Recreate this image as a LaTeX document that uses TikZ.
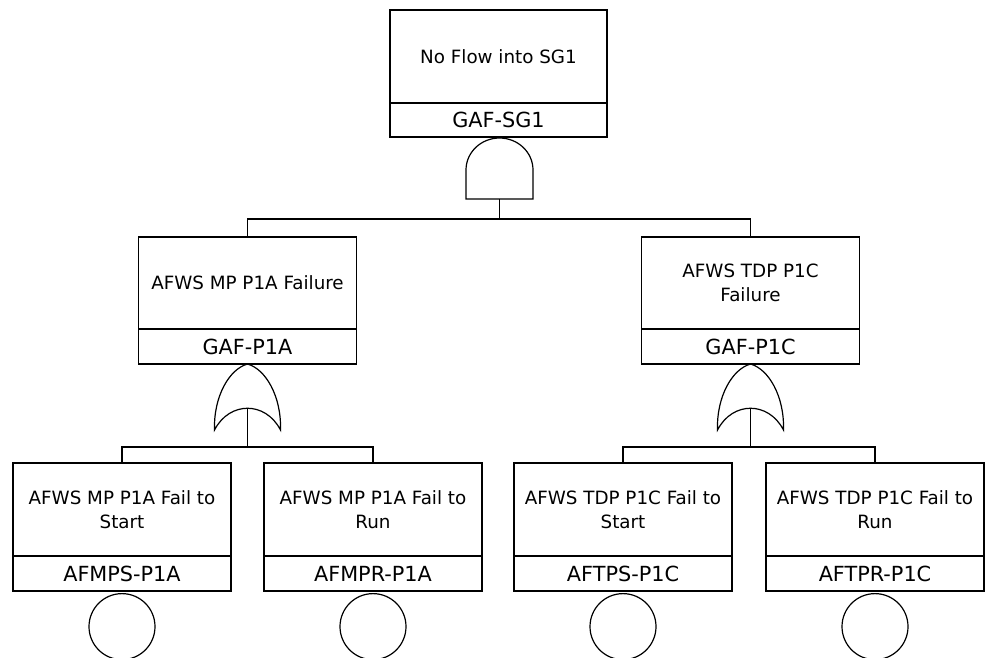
\documentclass[tikz,border=0pt]{standalone}
\usepackage{fontspec}
\setmainfont{DejaVu Sans}
\begin{document}
\begin{tikzpicture}[x=1pt,y=-1pt,line width=1.2pt,
  desc/.style={draw,minimum width=218pt,minimum height=93pt,inner sep=0pt,outer sep=0pt,align=center,font=\fontsize{18.3}{23.5}\selectfont},
  ident/.style={draw,minimum width=218pt,minimum height=35pt,inner sep=0pt,outer sep=0pt,font=\fontsize{20.8}{24}\selectfont},
  basic/.style={draw,circle,minimum size=66pt,inner sep=0pt},
  orgate/.pic={\draw (-33,66) .. controls (-34,32) and (-18,5) .. (0,0) .. controls (18,5) and (34,32) .. (33,66) .. controls (18,37) and (-18,37) .. cycle;}]
\useasboundingbox (0,0) rectangle (988,657);
% top event
\node[desc,minimum width=217pt] (top) at (498.5,56.5) {No Flow into SG1};
\node[ident,minimum width=217pt,minimum height=34pt,anchor=north] (topid) at (top.south) {GAF-SG1};
% AND gate
\draw (466,199) -- (466,170) arc[start angle=180,end angle=0,x radius=33.5pt,y radius=32pt] -- (533,199) -- cycle;
\coordinate (andout) at (499.5,199);
\coordinate (busA) at (499.5,219);
% middle events
\node[desc,minimum height=92pt] (m1) at (247.5,283) {AFWS MP P1A Failure};
\node[ident,anchor=north] (m1id) at (m1.south) {GAF-P1A};
\node[desc,minimum height=92pt] (m2) at (750.5,283) {AFWS TDP P1C\\Failure};
\node[ident,anchor=north] (m2id) at (m2.south) {GAF-P1C};
\draw (andout) -- (busA);
\draw (m1.north) |- (busA) -| (m2.north);
% OR gates
\pic at (247.5,364) {orgate};
\pic at (750.5,364) {orgate};
\coordinate (or1out) at (247.5,408);
\coordinate (bus1) at (247.5,447);
\coordinate (or2out) at (750.5,408);
\coordinate (bus2) at (750.5,447);
% basic events
\node[desc] (b1) at (122,509.5) {AFWS MP P1A Fail to\\Start};
\node[ident,anchor=north] (b1id) at (b1.south) {AFMPS-P1A};
\node[desc] (b2) at (373,509.5) {AFWS MP P1A Fail to\\Run};
\node[ident,anchor=north] (b2id) at (b2.south) {AFMPR-P1A};
\node[desc] (b3) at (623,509.5) {AFWS TDP P1C Fail to\\Start};
\node[ident,anchor=north] (b3id) at (b3.south) {AFTPS-P1C};
\node[desc] (b4) at (875,509.5) {AFWS TDP P1C Fail to\\Run};
\node[ident,anchor=north] (b4id) at (b4.south) {AFTPR-P1C};
\node[basic,anchor=north] (c1) at ([yshift=-2pt]b1id.south) {};
\node[basic,anchor=north] (c2) at ([yshift=-2pt]b2id.south) {};
\node[basic,anchor=north] (c3) at ([yshift=-2pt]b3id.south) {};
\node[basic,anchor=north] (c4) at ([yshift=-2pt]b4id.south) {};
\draw (or1out) -- (bus1);
\draw (b1.north) |- (bus1) -| (b2.north);
\draw (or2out) -- (bus2);
\draw (b3.north) |- (bus2) -| (b4.north);
\end{tikzpicture}
\end{document}
